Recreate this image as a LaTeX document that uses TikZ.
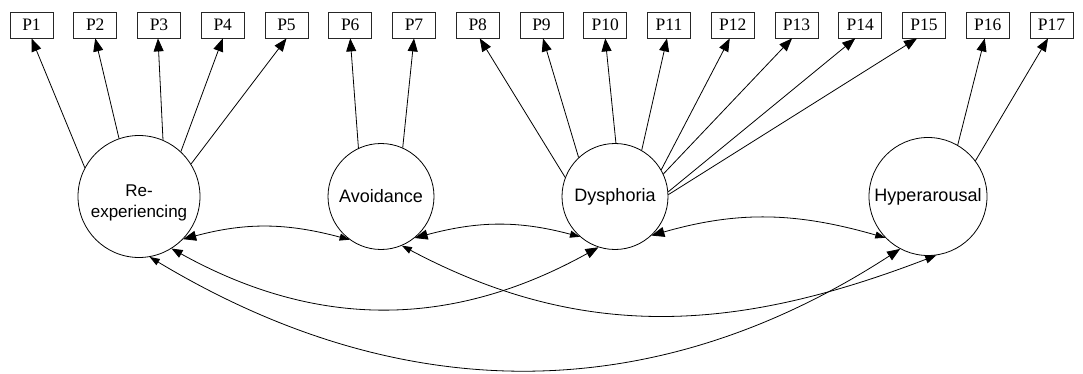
\documentclass[tikz,border=0pt]{standalone}
\usepackage{fontspec}
\setmainfont{Liberation Serif}
\newfontfamily\factorfont{Liberation Sans}
\usetikzlibrary{arrows.meta}

\begin{document}
\begin{tikzpicture}[x=1pt, y=-1pt,
  headL/.tip={Triangle[length=13pt,width=10pt]},
  headM/.tip={Triangle[length=11pt,width=8.5pt]},
  headS/.tip={Triangle[length=10pt,width=7pt]},
  indicator/.style={draw=black!85, line width=0.8pt, minimum width=43pt,
    minimum height=26pt, inner sep=0pt, font=\fontsize{17.5}{20}\selectfont},
  factor/.style={draw, circle, line width=0.8pt, inner sep=0pt,
    font=\factorfont\fontsize{18}{22}\selectfont},
  loading/.style={line width=0.8pt, -headL},
  covar/.style={line width=0.8pt}
]
\fill[white] (0,0) rectangle (1083,374);
\useasboundingbox (0,0) rectangle (1083,374);

% observed items
\foreach \i in {1,...,17}
  \node[indicator] (P\i) at ({31.5+63.75*(\i-1)}, 25) {P\i};

% latent factors
\node[factor, minimum size=122pt, font=\factorfont\fontsize{17}{22}\selectfont] (Re) at (139,196.5)
  {\raisebox{-6pt}[\height][\depth]{\begin{tabular}{@{}c@{}}Re-\\[-1pt]experiencing\end{tabular}}};
\node[factor, minimum size=106pt] (Av) at (381,196.5) {Avoidance};
\node[factor, minimum size=106pt] (Dy) at (615,196.5) {Dysphoria};
\node[factor, minimum size=118pt] (Hy) at (928,196.5) {Hyperarousal};

% factor loadings
\draw[loading] (Re.152) -- (P1.south);
\draw[loading] (Re.109) -- (P2.south);
\draw[loading] (Re.67)  -- ([xshift=-1pt]P3.south);
\draw[loading] (Re.47)  -- (P4.south);
\draw[loading] (Re.32)  -- (P5.south);
\draw[loading] (Av.115) -- (P6.south);
\draw[loading] (Av.66)  -- (P7.south);
\draw[loading] (Dy.159) -- ([xshift=2pt]P8.south);
\draw[loading] (Dy.133) -- ([xshift=1.5pt]P9.south);
\draw[loading] (Dy.89)  -- (P10.south);
\draw[loading] (Dy.60)  -- ([xshift=-2pt]P11.south);
\draw[loading] (Dy.30)  -- ([xshift=-3pt]P12.south);
\draw[loading] (Dy.25)  -- ([xshift=-4.5pt]P13.south);
\draw[loading] (Dy.5)   -- ([xshift=-5pt]P14.south);
\draw[loading] (Dy.2)   -- ([xshift=-7pt]P15.south);
\draw[loading] (Hy.60)  -- ([xshift=-3pt]P16.south);
\draw[loading] (Hy.37)  -- ([xshift=-3.5pt]P17.south);

% factor covariances
\draw[covar, headL-headS] (Re.-44) to[out=15, in=165] (Av.-126);
\draw[covar, headL-headS] (Av.-51) to[out=15, in=165] (Dy.-131);
\draw[covar, headL-headS] (Dy.-47) to[out=16, in=164] (Hy.-136);
\draw[covar, headM-headL] (Re.-58) to[out=-29, in=-151] (Dy.-108);
\draw[covar, headS-headM] (Av.-67) to[out=-28, in=-159] (Hy.-82);
\draw[covar, headS-headL] (Re.-80) to[out=-31, in=-147] (Hy.-118);
\end{tikzpicture}
\end{document}
